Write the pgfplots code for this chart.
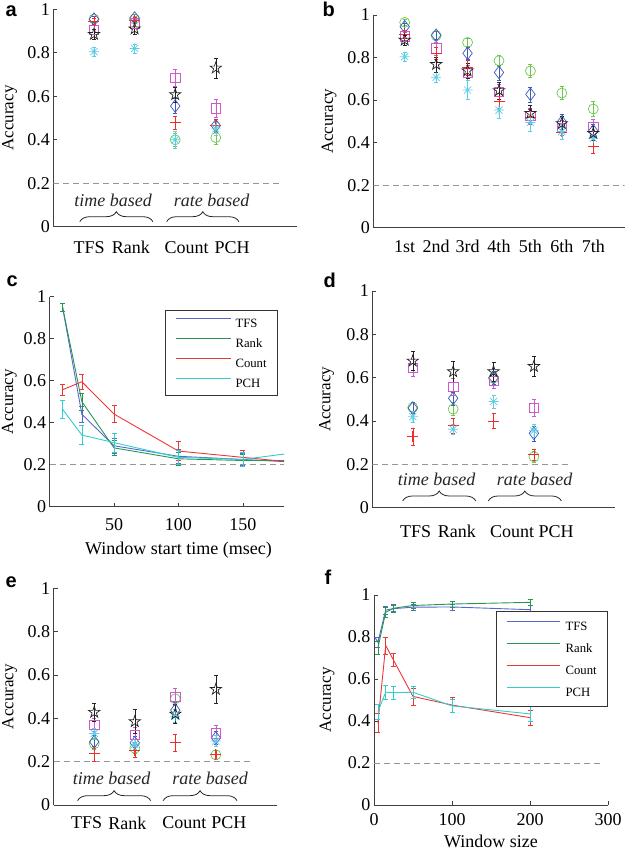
\documentclass[border=0pt]{standalone}
\usepackage{fontspec}
\setmainfont{Liberation Serif}
\newfontfamily\lfont{Liberation Sans}
\usepackage{pgfplots}
\pgfplotsset{compat=1.18}
\usetikzlibrary{decorations.pathreplacing,plotmarks}

\definecolor{mgreen}{RGB}{110,200,80}
\definecolor{mblue}{RGB}{60,90,185}
\definecolor{mmag}{RGB}{205,90,205}
\definecolor{mred}{RGB}{240,45,45}
\definecolor{mcyan}{RGB}{95,205,230}
\definecolor{mblack}{RGB}{35,35,35}
\definecolor{lblue}{RGB}{85,105,205}
\definecolor{lgreen}{RGB}{40,150,80}
\definecolor{lred}{RGB}{235,55,55}
\definecolor{lcyan}{RGB}{50,205,205}
\definecolor{dgray}{RGB}{150,150,150}

\pgfdeclareplotmark{pentagram}{%
 \pgfpathmoveto{\pgfqpoint{0pt}{\pgfplotmarksize}}%
 \pgfpathlineto{\pgfqpoint{-0.2245\pgfplotmarksize}{0.3090\pgfplotmarksize}}%
 \pgfpathlineto{\pgfqpoint{-0.9511\pgfplotmarksize}{0.3090\pgfplotmarksize}}%
 \pgfpathlineto{\pgfqpoint{-0.3633\pgfplotmarksize}{-0.1180\pgfplotmarksize}}%
 \pgfpathlineto{\pgfqpoint{-0.5878\pgfplotmarksize}{-0.8090\pgfplotmarksize}}%
 \pgfpathlineto{\pgfqpoint{0pt}{-0.382\pgfplotmarksize}}%
 \pgfpathlineto{\pgfqpoint{0.5878\pgfplotmarksize}{-0.8090\pgfplotmarksize}}%
 \pgfpathlineto{\pgfqpoint{0.3633\pgfplotmarksize}{-0.1180\pgfplotmarksize}}%
 \pgfpathlineto{\pgfqpoint{0.9511\pgfplotmarksize}{0.3090\pgfplotmarksize}}%
 \pgfpathlineto{\pgfqpoint{0.2245\pgfplotmarksize}{0.3090\pgfplotmarksize}}%
 \pgfpathclose\pgfusepathqstroke}
\pgfdeclareplotmark{mast}{%
 \pgfpathmoveto{\pgfqpoint{-\pgfplotmarksize}{0pt}}\pgfpathlineto{\pgfqpoint{\pgfplotmarksize}{0pt}}%
 \pgfpathmoveto{\pgfqpoint{0pt}{-\pgfplotmarksize}}\pgfpathlineto{\pgfqpoint{0pt}{\pgfplotmarksize}}%
 \pgfpathmoveto{\pgfqpoint{-0.7071\pgfplotmarksize}{-0.7071\pgfplotmarksize}}\pgfpathlineto{\pgfqpoint{0.7071\pgfplotmarksize}{0.7071\pgfplotmarksize}}%
 \pgfpathmoveto{\pgfqpoint{-0.7071\pgfplotmarksize}{0.7071\pgfplotmarksize}}\pgfpathlineto{\pgfqpoint{0.7071\pgfplotmarksize}{-0.7071\pgfplotmarksize}}%
 \pgfusepathqstroke}

\newcommand\fs{\fontsize{18}{21}\selectfont}
\newcommand\yfs{\fontsize{17}{20}\selectfont}
\newcommand\lfs{\fontsize{12.7}{15}\selectfont}
\newcommand\letf{\fontsize{20}{24}\lfont\bfseries}

\tikzset{
 br/.style={decorate, decoration={brace, amplitude=10pt}, line width=0.8pt, black!85},
 bt/.style={font=\fs\itshape, black!85},
}

\pgfplotsset{
 panel/.style={scale only axis, axis x line*=bottom, axis y line*=left,
   ymin=0, ymax=1, ytick={0,0.2,0.4,0.6,0.8,1}, yticklabels={0,0.2,0.4,0.6,0.8,1},
   tick align=inside, major tick length=4pt,
   axis line style={black!75, line width=0.8pt}, tick style={black!75, line width=0.6pt},
   tick label style={font=\fs}, label style={font=\fs}, ylabel style={font=\yfs},
   ylabel={Accuracy}, anchor=south west,
   /pgf/number format/assume math mode=true},
 cat/.style={xtick style={draw=none}, xticklabels={TFS,Rank,Count,PCH}},
 es/.style={/pgfplots/error bars/y dir=both, /pgfplots/error bars/y explicit,
   /pgfplots/error bars/error mark=|,
   /pgfplots/error bars/error bar style={line width=0.5pt},
   /pgfplots/error bars/error mark options={mark size=2pt, line width=0.5pt}},
 sG/.style={mgreen, only marks, mark=o, mark size=5pt, mark options={line width=0.7pt}, es},
 sB/.style={mblue, only marks, mark=diamond, mark size=6.3pt, mark options={line width=0.7pt}, es},
 sM/.style={mmag, only marks, mark=square, mark size=4.7pt, mark options={line width=0.7pt}, es},
 sR/.style={mred, only marks, mark=+, mark size=5.5pt, mark options={line width=0.8pt}, es},
 sC/.style={mcyan, only marks, mark=mast, mark size=5pt, mark options={line width=0.7pt}, es},
 sK/.style={mblack, only marks, mark=pentagram, mark size=6pt, mark options={line width=0.7pt}, es},
 ls/.style={line width=0.9pt, mark=none, /pgfplots/error bars/y dir=both, /pgfplots/error bars/y explicit,
   /pgfplots/error bars/error mark=|,
   /pgfplots/error bars/error bar style={line width=0.6pt},
   /pgfplots/error bars/error mark options={mark size=2.5pt, line width=0.6pt}},
 zero/.style={dgray, line width=0.7pt, dash pattern=on 6pt off 4pt, forget plot},
}

\begin{document}
\begin{tikzpicture}
\path[use as bounding box] (0pt,0pt) rectangle (626pt,852pt);

% ---------- a ----------
\begin{axis}[panel, cat, at={(53.4pt,625.3pt)}, width=243.6pt, height=217.4pt,
  xmin=0, xmax=6, xtick={0.88,1.91,3.28,4.4}, xticklabel style={yshift=-11pt},
  ylabel style={at={(axis description cs:-0.180,0.5)}, anchor=center}]
\addplot[zero] coordinates {(0,0.2) (5.6,0.2)};
\addplot[sG] coordinates {(1,0.955) +- (0,0.015) (2,0.955) +- (0,0.015) (3,0.40) +- (0,0.03) (4,0.41) +- (0,0.03)};
\addplot[sB] coordinates {(1,0.955) +- (0,0.015) (2,0.96) +- (0,0.015) (3,0.555) +- (0,0.035) (4,0.465) +- (0,0.03)};
\addplot[sM] coordinates {(1,0.905) +- (0,0.02) (2,0.935) +- (0,0.02) (3,0.685) +- (0,0.04) (4,0.545) +- (0,0.04)};
\addplot[sR] coordinates {(1,0.945) +- (0,0.015) (2,0.95) +- (0,0.015) (3,0.478) +- (0,0.03) (4,0.465) +- (0,0.03)};
\addplot[sC] coordinates {(1,0.805) +- (0,0.02) (2,0.82) +- (0,0.02) (3,0.40) +- (0,0.04) (4,0.45) +- (0,0.03)};
\addplot[sK] coordinates {(1,0.885) +- (0,0.025) (2,0.91) +- (0,0.025) (3,0.608) +- (0,0.035) (4,0.73) +- (0,0.045)};
\draw[br] (axis cs:0.65,0.023) -- (axis cs:2.45,0.023);
\draw[br] (axis cs:2.79,0.023) -- (axis cs:4.57,0.023);
\node[bt] at (axis cs:1.47,0.123) {time based};
\node[bt] at (axis cs:3.9,0.123) {rate based};
\end{axis}

% ---------- b ----------
\begin{axis}[panel, at={(373.3pt,624.3pt)}, width=251.4pt, height=212.7pt,
  xmin=0, xmax=8, xtick={1,2,3,4,5,6,7}, xticklabels={1st,2nd,3rd,4th,5th,6th,7th},
  xtick style={draw=none}, xticklabel style={yshift=-9pt},
  ylabel style={at={(axis description cs:-0.176,0.5)}, anchor=center}]
\addplot[zero] coordinates {(0,0.2) (8,0.2)};
\addplot[sG] coordinates {(1,0.965) +- (0,0.015) (2,0.903) +- (0,0.02) (3,0.871) +- (0,0.02) (4,0.785) +- (0,0.025) (5,0.737) +- (0,0.03) (6,0.633) +- (0,0.03) (7,0.558) +- (0,0.035)};
\addplot[sB] coordinates {(1,0.945) +- (0,0.015) (2,0.905) +- (0,0.02) (3,0.82) +- (0,0.03) (4,0.73) +- (0,0.035) (5,0.627) +- (0,0.035) (6,0.497) +- (0,0.035) (7,0.455) +- (0,0.03)};
\addplot[sM] coordinates {(1,0.90) +- (0,0.02) (2,0.843) +- (0,0.03) (3,0.728) +- (0,0.035) (4,0.64) +- (0,0.035) (5,0.525) +- (0,0.035) (6,0.47) +- (0,0.035) (7,0.473) +- (0,0.035)};
\addplot[sR] coordinates {(1,0.91) +- (0,0.02) (2,0.82) +- (0,0.03) (3,0.752) +- (0,0.035) (4,0.595) +- (0,0.035) (5,0.52) +- (0,0.035) (6,0.45) +- (0,0.035) (7,0.38) +- (0,0.03)};
\addplot[sC] coordinates {(1,0.804) +- (0,0.02) (2,0.707) +- (0,0.025) (3,0.647) +- (0,0.045) (4,0.553) +- (0,0.04) (5,0.495) +- (0,0.04) (6,0.452) +- (0,0.035) (7,0.42) +- (0,0.035)};
\addplot[sK] coordinates {(1,0.882) +- (0,0.025) (2,0.768) +- (0,0.035) (3,0.738) +- (0,0.035) (4,0.645) +- (0,0.04) (5,0.538) +- (0,0.04) (6,0.49) +- (0,0.035) (7,0.444) +- (0,0.035)};
\end{axis}

% ---------- c ----------
\begin{axis}[panel, at={(49.7pt,345.3pt)}, width=234.3pt, height=210pt,
  xmin=0, xmax=182, xtick={50,100,150}, xticklabels={50,100,150}, xticklabel style={yshift=-8.7pt},
  xlabel={Window start time (msec)}, xlabel style={at={(axis description cs:0.55,0)}, anchor=base, yshift=-48pt},
  ylabel style={at={(axis description cs:-0.172,0.5)}, anchor=center},
  legend style={at={(axis description cs:0.974,0.937)}, anchor=north east, font=\lfs,
    draw=black!80, line width=0.6pt, inner xsep=10pt, inner ysep=7pt, row sep=9pt, column sep=3.5pt,
    cells={anchor=west}, nodes={inner sep=1pt, text height=9pt, text depth=0pt}},
  legend image code/.code={\draw[#1, line width=0.9pt] (0pt,4pt) -- (55pt,4pt);}]
\addplot[lblue, ls] coordinates {(10,0.95) +- (0,0.02) (25,0.44) +- (0,0.04) (50,0.29) +- (0,0.035) (100,0.24) +- (0,0.035) (150,0.225) +- (0,0.03) (200,0.209) +- (0,0.03)};
\addplot[lgreen, ls] coordinates {(10,0.95) +- (0,0.02) (25,0.50) +- (0,0.04) (50,0.28) +- (0,0.035) (100,0.228) +- (0,0.03) (150,0.22) +- (0,0.03) (200,0.22) +- (0,0.03)};
\addplot[lred, ls] coordinates {(10,0.557) +- (0,0.025) (25,0.595) +- (0,0.035) (50,0.441) +- (0,0.04) (100,0.265) +- (0,0.045) (150,0.235) +- (0,0.035) (200,0.205) +- (0,0.03)};
\addplot[lcyan, ls] coordinates {(10,0.464) +- (0,0.045) (25,0.341) +- (0,0.045) (50,0.305) +- (0,0.045) (100,0.235) +- (0,0.035) (150,0.225) +- (0,0.035) (200,0.265) +- (0,0.03)};
\addplot[zero] coordinates {(0,0.2) (182,0.2)};
\legend{TFS,Rank,Count,PCH}
\end{axis}

% ---------- d ----------
\begin{axis}[panel, cat, at={(372.4pt,344.3pt)}, width=242.3pt, height=216.7pt,
  xmin=0, xmax=6, xtick={1.07,2.09,3.46,4.55}, xticklabel style={yshift=-14pt},
  ylabel style={at={(axis description cs:-0.189,0.5)}, anchor=center}]
\addplot[zero] coordinates {(0,0.2) (4.94,0.2)};
\addplot[sG] coordinates {(1,0.462) +- (0,0.025) (2,0.455) +- (0,0.03) (3,0.597) +- (0,0.03) (4,0.235) +- (0,0.025)};
\addplot[sB] coordinates {(1,0.46) +- (0,0.025) (2,0.505) +- (0,0.03) (3,0.60) +- (0,0.03) (4,0.343) +- (0,0.035)};
\addplot[sM] coordinates {(1,0.646) +- (0,0.04) (2,0.558) +- (0,0.04) (3,0.586) +- (0,0.035) (4,0.46) +- (0,0.04)};
\addplot[sR] coordinates {(1,0.327) +- (0,0.04) (2,0.378) +- (0,0.035) (3,0.40) +- (0,0.035) (4,0.245) +- (0,0.025)};
\addplot[sC] coordinates {(1,0.42) +- (0,0.025) (2,0.362) +- (0,0.025) (3,0.49) +- (0,0.03) (4,0.355) +- (0,0.03)};
\addplot[sK] coordinates {(1,0.677) +- (0,0.045) (2,0.628) +- (0,0.05) (3,0.628) +- (0,0.045) (4,0.652) +- (0,0.045)};
\draw[br] (axis cs:0.75,0.031) -- (axis cs:2.56,0.031);
\draw[br] (axis cs:2.87,0.031) -- (axis cs:4.68,0.031);
\node[bt] at (axis cs:1.59,0.132) {time based};
\node[bt] at (axis cs:4.02,0.132) {rate based};
\end{axis}

% ---------- e ----------
\begin{axis}[panel, cat, at={(53.7pt,47pt)}, width=223pt, height=216.7pt,
  xmin=0, xmax=5.5, xtick={0.81,1.82,3.22,4.32}, xticklabel style={yshift=-8pt},
  ylabel style={at={(axis description cs:-0.198,0.5)}, anchor=center}]
\addplot[zero] coordinates {(0,0.2) (4.85,0.2)};
\addplot[sG] coordinates {(1,0.283) +- (0,0.025) (2,0.262) +- (0,0.025) (3,0.49) +- (0,0.03) (4,0.232) +- (0,0.02)};
\addplot[sB] coordinates {(1,0.292) +- (0,0.03) (2,0.287) +- (0,0.03) (3,0.438) +- (0,0.035) (4,0.31) +- (0,0.03)};
\addplot[sM] coordinates {(1,0.369) +- (0,0.03) (2,0.323) +- (0,0.035) (3,0.50) +- (0,0.04) (4,0.331) +- (0,0.035)};
\addplot[sR] coordinates {(1,0.238) +- (0,0.035) (2,0.25) +- (0,0.03) (3,0.288) +- (0,0.04) (4,0.232) +- (0,0.02)};
\addplot[sC] coordinates {(1,0.33) +- (0,0.025) (2,0.28) +- (0,0.025) (3,0.41) +- (0,0.03) (4,0.295) +- (0,0.025)};
\addplot[sK] coordinates {(1,0.428) +- (0,0.04) (2,0.385) +- (0,0.055) (3,0.42) +- (0,0.045) (4,0.534) +- (0,0.065)};
\draw[br] (axis cs:0.59,0.02) -- (axis cs:2.39,0.02);
\draw[br] (axis cs:2.7,0.02) -- (axis cs:4.52,0.02);
\node[bt] at (axis cs:1.43,0.123) {time based};
\node[bt] at (axis cs:3.86,0.123) {rate based};
\end{axis}

% ---------- f ----------
\begin{axis}[panel, at={(374pt,47pt)}, width=234pt, height=210pt,
  xmin=0, xmax=300, xtick={0,100,200,300}, xticklabels={0,100,200,300}, xticklabel style={yshift=-5pt},
  xlabel={Window size}, xlabel style={at={(axis description cs:0.5,0)}, anchor=base, yshift=-42pt},
  ylabel style={at={(axis description cs:-0.2,0.5)}, anchor=center},
  legend style={at={(axis description cs:1.0,0.924)}, anchor=north east, font=\lfs,
    draw=black!80, line width=0.6pt, inner xsep=10pt, inner ysep=9pt, row sep=11pt, column sep=4.5pt,
    cells={anchor=west}, nodes={inner sep=1pt, text height=9pt, text depth=0pt}},
  legend image code/.code={\draw[#1, line width=0.9pt] (0pt,4pt) -- (53pt,4pt);}]
\addplot[lblue, ls] coordinates {(1,0.80) +- (0,0) (5,0.775) +- (0,0.025) (15,0.928) +- (0,0.02) (25,0.935) +- (0,0.015) (50,0.942) +- (0,0.015) (100,0.943) +- (0,0.015) (200,0.93) +- (0,0.02)};
\addplot[lgreen, ls] coordinates {(5,0.748) +- (0,0.03) (15,0.918) +- (0,0.025) (25,0.937) +- (0,0.02) (50,0.95) +- (0,0.015) (100,0.957) +- (0,0.015) (200,0.965) +- (0,0.015)};
\addplot[lred, ls] coordinates {(5,0.39) +- (0,0.045) (15,0.76) +- (0,0.04) (25,0.69) +- (0,0.03) (50,0.517) +- (0,0.04) (100,0.476) +- (0,0.035) (200,0.416) +- (0,0.035)};
\addplot[lcyan, ls] coordinates {(5,0.445) +- (0,0.035) (15,0.537) +- (0,0.035) (25,0.535) +- (0,0.03) (50,0.537) +- (0,0.03) (100,0.472) +- (0,0.03) (200,0.434) +- (0,0.035)};
\addplot[zero] coordinates {(0,0.2) (291,0.2)};
\legend{TFS,Rank,Count,PCH}
\end{axis}

\node[anchor=base west, font=\letf] at (2pt,835pt) {a};
\node[anchor=base west, font=\letf] at (319pt,835pt) {b};
\node[anchor=base west, font=\letf] at (3pt,565pt) {c};
\node[anchor=base west, font=\letf] at (320pt,564pt) {d};
\node[anchor=base west, font=\letf] at (2pt,264pt) {e};
\node[anchor=base west, font=\letf] at (321pt,267pt) {f};
\end{tikzpicture}
\end{document}
